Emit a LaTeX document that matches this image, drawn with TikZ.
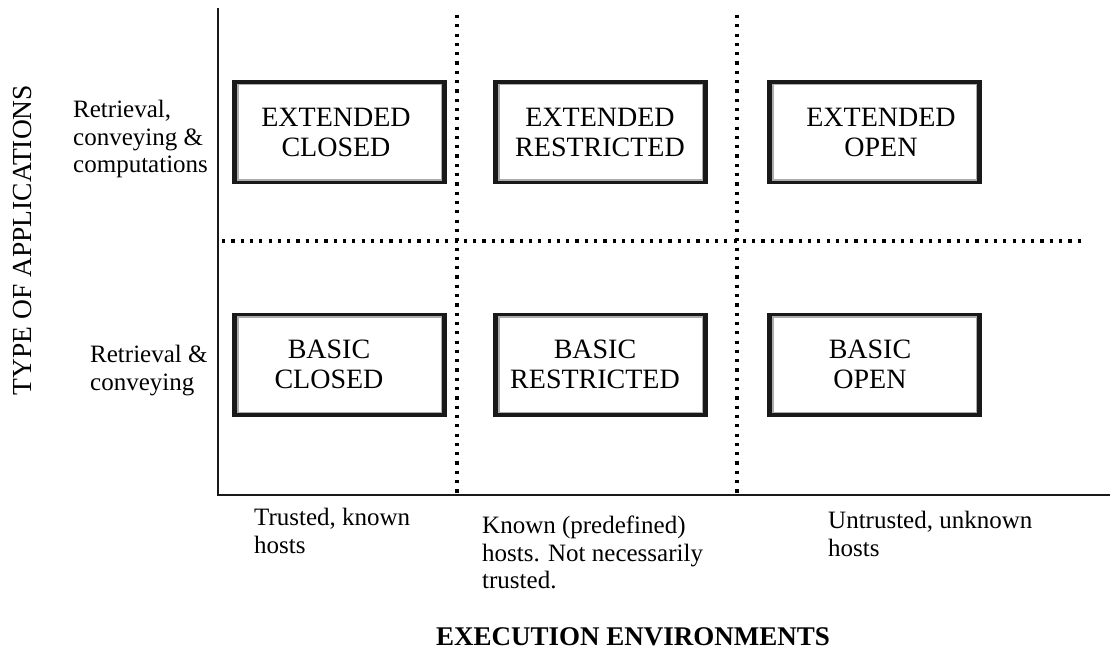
\documentclass[tikz,border=0pt]{standalone}
\usepackage{fontspec}
\setmainfont{Liberation Serif}
\usetikzlibrary{calc}
\begin{document}
\begin{tikzpicture}[x=1pt,y=-1pt,
  axisline/.style={line width=2.8pt, black!90},
  gridline/.style={line width=3.2pt, dash pattern=on 3.2pt off 6.1pt},
  cellbox/.style={minimum width=215pt, minimum height=104pt, inner sep=0pt,
    path picture={
      \fill[black!90] (path picture bounding box.south west) rectangle (path picture bounding box.north east);
      \fill[gray!65] ([shift={(5pt,3.5pt)}]path picture bounding box.south west) rectangle ([shift={(-5pt,-3.5pt)}]path picture bounding box.north east);
      \fill[white] ([shift={(6.5pt,5pt)}]path picture bounding box.south west) rectangle ([shift={(-6.5pt,-5pt)}]path picture bounding box.north east);
    }},
  celltext/.style={font=\fontsize{28}{30}\selectfont, align=center, inner sep=0pt},
  lab/.style={font=\fontsize{25}{27.5}\selectfont, align=left, inner sep=0pt, anchor=north west}
]
\useasboundingbox (0,0) rectangle (1113,655);

% axes
\coordinate (ytop) at (218,8);
\coordinate (origin) at (218,495);
\coordinate (xend) at (1110,495);
\draw[axisline] (ytop) -- (origin) -- (xend);

% dotted separators
\coordinate (v1t) at (457,15);
\coordinate (v1b) at (457,493);
\coordinate (v2t) at (737,15);
\coordinate (v2b) at (737,493);
\coordinate (hl) at (222,241);
\coordinate (hr) at (1085,241);
\draw[gridline] (v1t) -- (v1b);
\draw[gridline] (v2t) -- (v2b);
\draw[gridline] (hl) -- (hr);

% boxes
\node[cellbox] (ec) at (339.5,132.5) {};
\node[cellbox] (er) at (600.5,132.5) {};
\node[cellbox] (eo) at (874.5,132.5) {};
\node[cellbox] (bc) at (339.5,364.5) {};
\node[cellbox] (br) at (600.5,364.5) {};
\node[cellbox] (bo) at (874.5,364.5) {};

\node[celltext] (tec) at ([xshift=-3.5pt]ec.center) {EXTENDED\\CLOSED};
\node[celltext] (ter) at ([xshift=-0.5pt]er.center) {EXTENDED\\RESTRICTED};
\node[celltext] (teo) at ([xshift=6.5pt]eo.center) {EXTENDED\\OPEN};
\node[celltext] (tbc) at ([xshift=-10.5pt]bc.center) {BASIC\\CLOSED};
\node[celltext] (tbr) at ([xshift=-5.5pt]br.center) {BASIC\\RESTRICTED};
\node[celltext] (tbo) at ([xshift=-4.5pt]bo.center) {BASIC\\OPEN};

% row labels
\node[lab] (l1) at (73,100) {Retrieval,\\conveying \&\\computations};
\node[lab] (l2) at (90,345) {Retrieval \&\\conveying};
\node[rotate=90, font=\fontsize{27.5}{30}\selectfont, inner sep=0pt] (ylab) at (23,240) {TYPE OF APPLICATIONS};

% column labels
\node[lab] (x1) at (254,508) {Trusted, known\\hosts};
\node[lab] (x2) at (482,516) {Known (predefined)\\hosts. Not necessarily\\trusted.};
\node[lab] (x3) at (828,511) {Untrusted, unknown\\hosts};
\node[font=\bfseries\fontsize{27}{30}\selectfont, anchor=base, inner sep=0pt] (xlab) at (633,645) {EXECUTION ENVIRONMENTS};
\end{tikzpicture}
\end{document}
